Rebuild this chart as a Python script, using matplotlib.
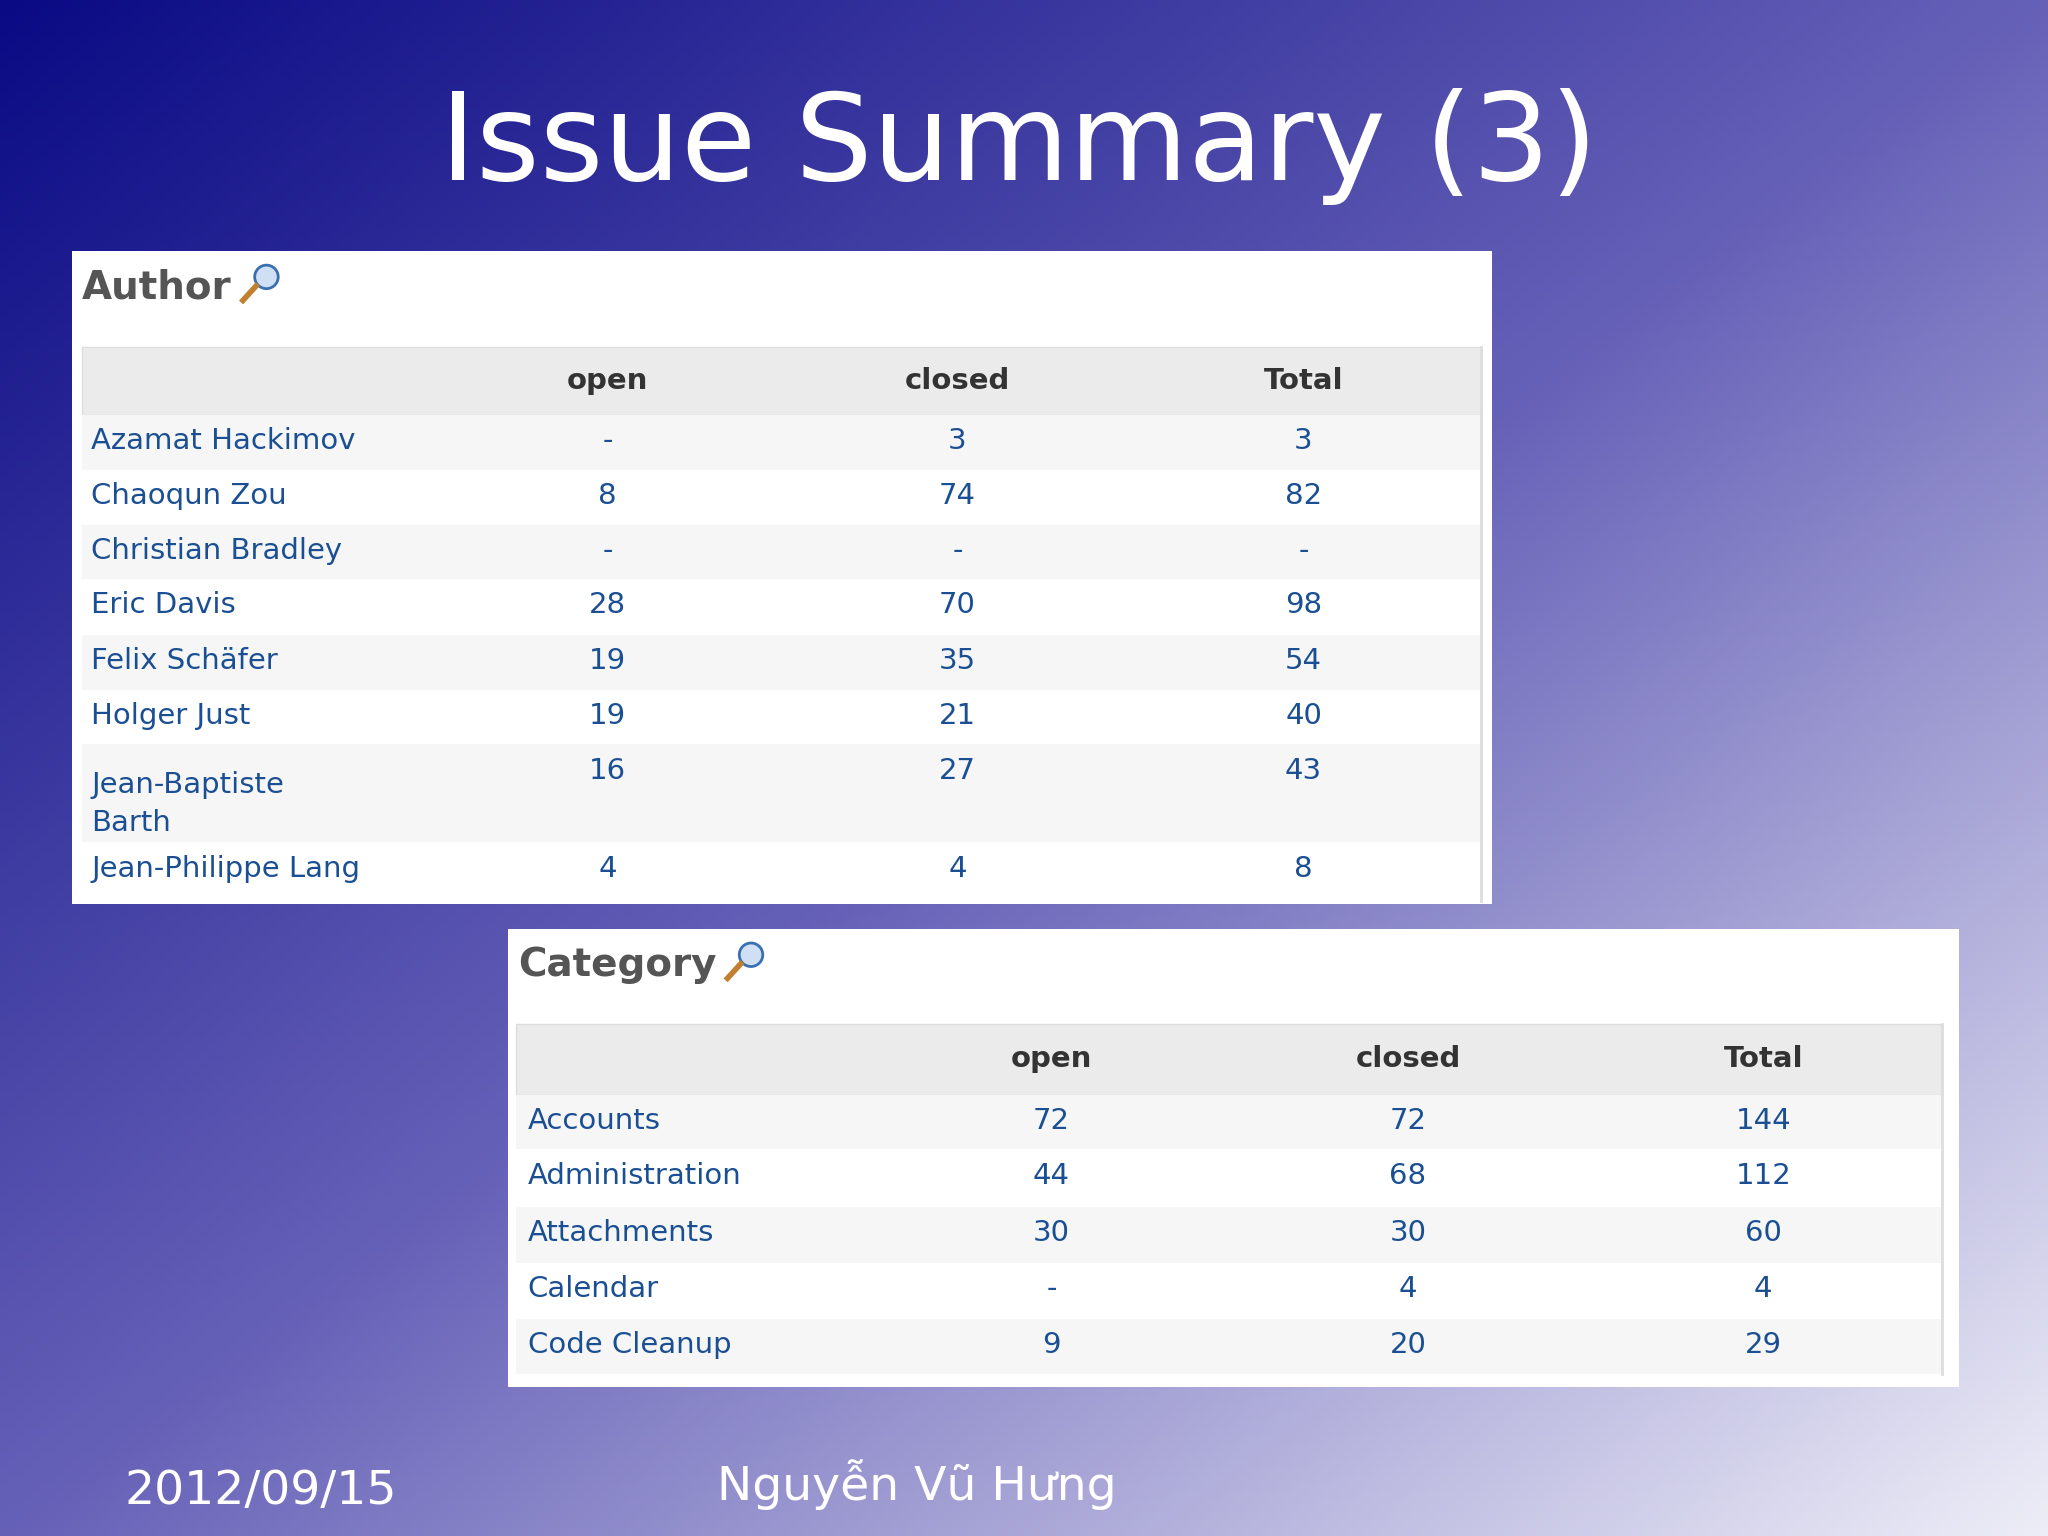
import numpy as np
import matplotlib
matplotlib.use("Agg")
import matplotlib.pyplot as plt
from matplotlib.patches import Rectangle, Circle

W, H = 1568, 1176  # layout units (reference pixels)

author_names = ["Azamat Hackimov", "Chaoqun Zou", "Christian Bradley", "Eric Davis",
                "Felix Schäfer", "Holger Just", "Jean-Baptiste\nBarth", "Jean-Philippe Lang"]
author_open = ["-", "8", "-", "28", "19", "19", "16", "4"]
author_closed = ["3", "74", "-", "70", "35", "21", "27", "4"]
author_total = ["3", "82", "-", "98", "54", "40", "43", "8"]

cat_names = ["Accounts", "Administration", "Attachments", "Calendar", "Code Cleanup"]
cat_open = ["72", "44", "30", "-", "9"]
cat_closed = ["72", "68", "30", "4", "20"]
cat_total = ["144", "112", "60", "4", "29"]

columns = ["open", "closed", "Total"]

fig = plt.figure(figsize=(20.48, 15.36), dpi=100)
ax = fig.add_axes([0, 0, 1, 1])
ax.set_xlim(0, W); ax.set_ylim(H, 0); ax.axis("off")

# diagonal gradient background
yy, xx = np.mgrid[0:1:200j, 0:1:260j]
t = np.clip((xx * 0.6 + yy * 0.6), 0, 1.2) / 1.2
c0 = np.array([0.04, 0.04, 0.52]); c1 = np.array([0.40, 0.38, 0.72]); c2 = np.array([0.93, 0.93, 0.97])
img = np.where(t[..., None] < 0.5,
               c0 + (c1 - c0) * (t[..., None] / 0.5),
               c1 + (c2 - c1) * ((t[..., None] - 0.5) / 0.5))
ax.imshow(img, extent=(0, W, H, 0), aspect="auto", zorder=0)

ax.text(780, 112, "Issue Summary (3)", color="white", fontsize=88, ha="center", va="center")
ax.text(95, 1142, "2012/09/15", color="white", fontsize=34, ha="left", va="center")
ax.text(702, 1137, "Nguyễn Vũ Hưng", color="white", fontsize=34, ha="center", va="center")


def panel(x0, y0, x1, y1, title, tx0, tx1, head, bounds, colx, namex, names, vals):
    ax.add_patch(Rectangle((x0, y0), x1 - x0, y1 - y0, fc="white", ec="none", zorder=1))
    ax.text(x0 + 8, y0 + 28, title, color="#555555", fontsize=28, fontweight="bold",
            va="center", ha="left", zorder=3)
    tw = len(title) * 18.5 + 30
    ax.add_patch(Circle((x0 + tw + 8, y0 + 20), 9, fc="#cfe0f5", ec="#3a6fb0", lw=2, zorder=3))
    ax.plot([x0 + tw, x0 + tw - 10], [y0 + 27, y0 + 38], color="#c08030", lw=4, zorder=3)
    ax.add_patch(Rectangle((tx0, head[0]), tx1 - tx0, head[1] - head[0], fc="#ebebeb",
                           ec="#dddddd", zorder=2))
    for c, x in zip(columns, colx):
        ax.text(x, (head[0] + head[1]) / 2, c, fontsize=21, fontweight="bold", color="#333333",
                ha="center", va="center", zorder=3)
    for i, name in enumerate(names):
        r0, r1 = bounds[i], bounds[i + 1]
        ax.add_patch(Rectangle((tx0, r0), tx1 - tx0, r1 - r0,
                               fc="#f6f6f6" if i % 2 == 0 else "white", ec="none", zorder=2))
        yc = r0 + 20
        ax.text(namex, yc, name, fontsize=21, color="#1b4f93", ha="left", va="top" if "\n" in name else "center",
                zorder=3, linespacing=1.45) if "\n" in name else \
            ax.text(namex, yc, name, fontsize=21, color="#1b4f93", ha="left", va="center", zorder=3)
        for col, x in zip(vals, colx):
            ax.text(x, yc, col[i], fontsize=21, color="#1b4f93", ha="center", va="center", zorder=3)
    ax.plot([tx1, tx1], [head[0], bounds[-1]], color="#dddddd", lw=2, zorder=3)


# name rows with two lines need the text placed from the top
author_bounds = [318, 360, 402, 443, 486, 528, 570, 645, 690]
panel(55, 192, 1142, 692, "Author", 63, 1134, (266, 318), author_bounds,
      [465, 733, 998], 70, author_names, [author_open, author_closed, author_total])
cat_bounds = [838, 880, 924, 967, 1010, 1052]
panel(389, 711, 1500, 1062, "Category", 395, 1487, (784, 838), cat_bounds,
      [805, 1078, 1350], 404, cat_names, [cat_open, cat_closed, cat_total])

fig.savefig("out.png", dpi=100)
